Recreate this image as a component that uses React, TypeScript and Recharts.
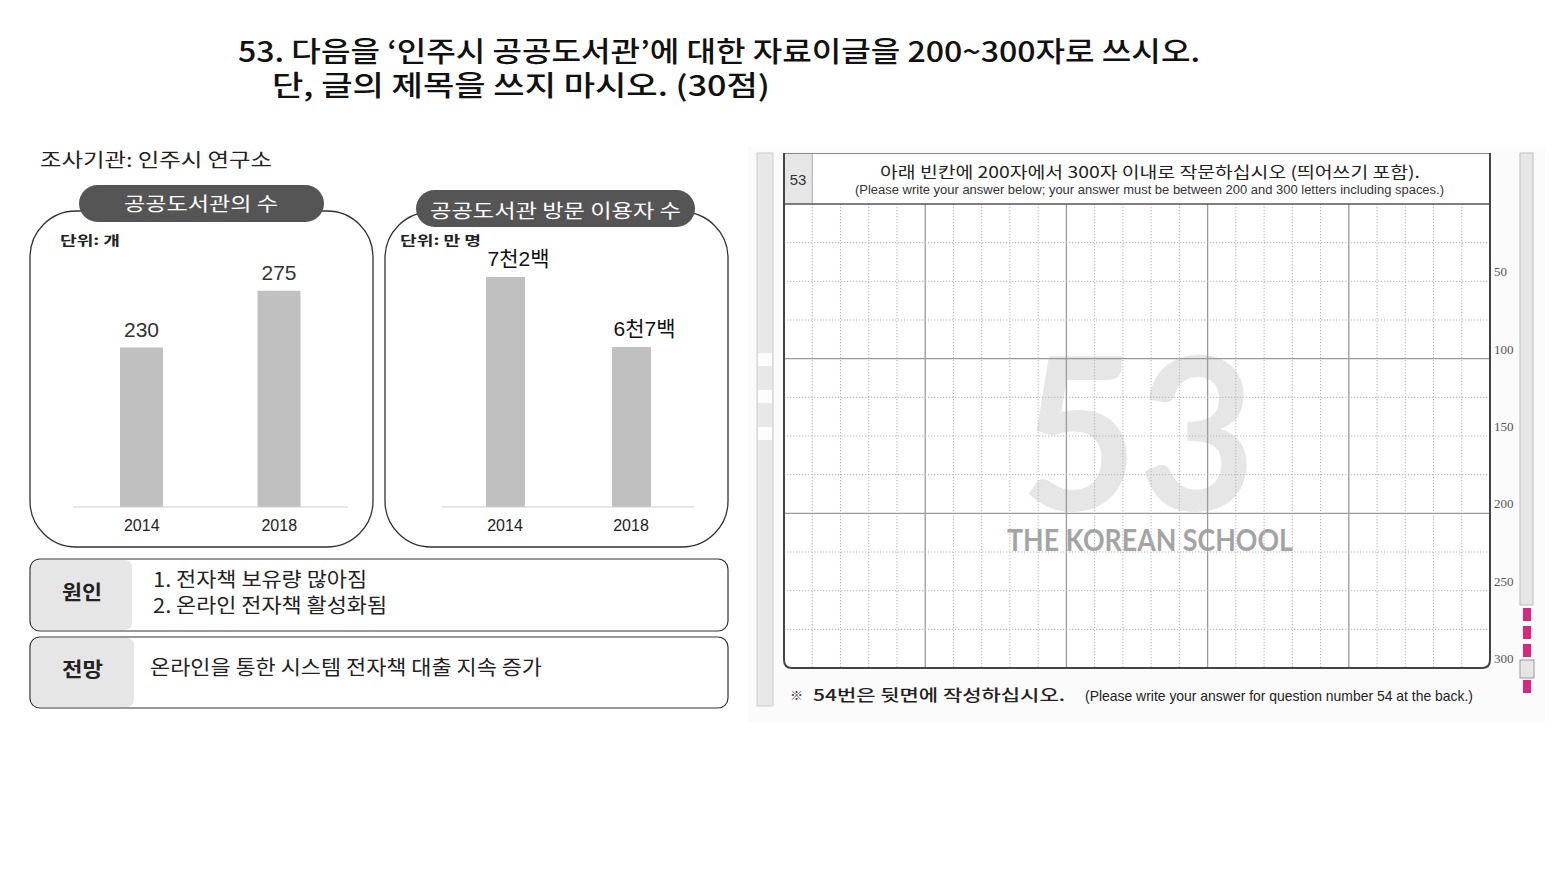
import React from 'react';
import { BarChart, Bar, XAxis, YAxis, LabelList } from 'recharts';

// ---------- data ----------
const years = ['2014', '2018'];
const libraryCounts = [230, 275];
const libraryCountLabels = ['230', '275'];
const visitorCounts = [7200, 6700]; // 만 명
const visitorLabels = ['7천2백', '6천7백'];
const sheetRowMarks = ['50', '100', '150', '200', '250', '300'];

const libraryData = years.map((y, i) => ({ year: y, value: libraryCounts[i], label: libraryCountLabels[i] }));
const visitorData = years.map((y, i) => ({ year: y, value: visitorCounts[i], label: visitorLabels[i] }));

const KR = '"Noto Sans CJK KR", "Noto Sans", sans-serif';
const LAT = '"Liberation Sans", Arial, "Noto Sans CJK KR", sans-serif';

// ---------- answer sheet geometry ----------
const SH_L = 784;
const SH_R = 1490;
const SH_TOP = 153;
const SH_HEAD = 204;
const SH_BOT = 668;
const COLS = 25;
const ROWS = 12;
const colW = (SH_R - SH_L) / COLS;
const rowH = (SH_BOT - SH_HEAD) / ROWS;

const makeLabel = (dx: number, fill: string, size: number) => (props: any) => {
  const { x, y, width, value } = props;
  return (
    <text
      x={Number(x) + Number(width) / 2 + dx}
      y={Number(y) - 11}
      textAnchor="middle"
      fill={fill}
      fontSize={size}
      fontFamily={LAT}
    >
      {value}
    </text>
  );
};

function AnswerSheet() {
  const cols: React.ReactNode[] = [];
  for (let c = 1; c < COLS; c++) {
    const x = SH_L + c * colW;
    const solid = c % 5 === 0;
    cols.push(
      <line
        key={'c' + c}
        x1={x}
        x2={x}
        y1={SH_HEAD}
        y2={SH_BOT}
        stroke={solid ? '#9a9a9a' : '#b5b5b5'}
        strokeWidth={solid ? 1.3 : 1}
        strokeDasharray={solid ? undefined : '1.3 1.7'}
      />
    );
  }
  const rows: React.ReactNode[] = [];
  for (let r = 1; r < ROWS; r++) {
    const y = SH_HEAD + r * rowH;
    const solid = r % 4 === 0;
    rows.push(
      <line
        key={'r' + r}
        x1={SH_L}
        x2={SH_R}
        y1={y}
        y2={y}
        stroke={solid ? '#9a9a9a' : '#b5b5b5'}
        strokeWidth={solid ? 1.3 : 1}
        strokeDasharray={solid ? undefined : '1.3 1.7'}
      />
    );
  }
  const marks = sheetRowMarks.map((m, i) => (
    <text
      key={m}
      x={1494}
      y={SH_HEAD + (i + 1) * 2 * rowH - 8}
      dominantBaseline="middle"
      fontSize={13}
      fill="#555"
      fontFamily='"Liberation Serif", "DejaVu Serif", serif'
    >
      {m}
    </text>
  ));
  const pinkYs = [608, 626, 644, 680];
  return (
    <g>
      <rect x={748} y={146} width={797} height={576} fill="#fbfbfb" />
      {/* left strip */}
      <rect x={757} y={153} width={16} height={553} fill="#e8e8e8" stroke="#cdcdcd" strokeWidth={1} />
      {[353, 390, 427].map((y) => (
        <rect key={y} x={758} y={y} width={14} height={13} fill="#fdfdfd" />
      ))}
      {/* right strip */}
      <rect x={1520} y={153} width={13} height={452} fill="#e6e6e6" stroke="#bdbdbd" strokeWidth={1} />
      {pinkYs.map((y) => (
        <rect key={y} x={1523} y={y} width={8} height={13} fill="#d9267f" />
      ))}
      <rect x={1520} y={660} width={14} height={18} fill="#e6e6e6" stroke="#9a9a9a" strokeWidth={1} />

      {/* header */}
      <rect x={SH_L} y={SH_TOP} width={SH_R - SH_L} height={SH_HEAD - SH_TOP} fill="#ffffff" />
      <rect x={SH_L + 1} y={SH_TOP + 1} width={colW - 1} height={SH_HEAD - SH_TOP - 1} fill="#e6e6e6" />
      <line x1={SH_L + colW} x2={SH_L + colW} y1={SH_TOP} y2={SH_HEAD} stroke="#aaa" strokeWidth={1} />
      <text x={SH_L + colW / 2} y={181} textAnchor="middle" dominantBaseline="middle" fontSize={15} fill="#333" fontFamily={LAT}>
        53
      </text>
      <text x={880} y={178} fontSize={16} fill="#222" fontFamily={KR} textLength={540} lengthAdjust="spacingAndGlyphs">
        아래 빈칸에 200자에서 300자 이내로 작문하십시오 (띄어쓰기 포함).
      </text>
      <text x={855} y={194} fontSize={12} fill="#333" fontFamily={LAT} textLength={589} lengthAdjust="spacingAndGlyphs">
        (Please write your answer below; your answer must be between 200 and 300 letters including spaces.)
      </text>

      {/* grid body */}
      <rect x={SH_L} y={SH_HEAD} width={SH_R - SH_L} height={SH_BOT - SH_HEAD} fill="#ffffff" />
      {/* watermark */}
      <text x={1020} y={510} fontSize={212} fontWeight={700} fill="#e6e6e6" fontFamily='Lato, "Noto Sans", sans-serif' textLength={236} lengthAdjust="spacingAndGlyphs">
        53
      </text>
      <text x={1007} y={551} fontSize={30} fontWeight={700} fill="#a4a4a4" fontFamily='Lato, "Noto Sans", sans-serif' textLength={286} lengthAdjust="spacingAndGlyphs">
        THE KOREAN SCHOOL
      </text>
      {cols}
      {rows}
      {/* frame */}
      <line x1={SH_L} x2={SH_R} y1={SH_TOP + 0.5} y2={SH_TOP + 0.5} stroke="#888" strokeWidth={1} />
      <line x1={SH_L} x2={SH_R} y1={SH_HEAD} y2={SH_HEAD} stroke="#555" strokeWidth={1.6} />
      <path
        d={`M ${SH_L} ${SH_TOP} L ${SH_L} ${SH_BOT - 8} Q ${SH_L} ${SH_BOT} ${SH_L + 8} ${SH_BOT} L ${SH_R - 8} ${SH_BOT} Q ${SH_R} ${SH_BOT} ${SH_R} ${SH_BOT - 8} L ${SH_R} ${SH_TOP}`}
        fill="none"
        stroke="#444"
        strokeWidth={2}
      />
      {marks}

      {/* footer */}
      <text x={790} y={700} fontSize={13} fill="#444" fontFamily={KR}>
        ※
      </text>
      <text x={813} y={701} fontSize={16} fontWeight={500} fill="#222" fontFamily={KR} textLength={252} lengthAdjust="spacingAndGlyphs">
        54번은 뒷면에 작성하십시오.
      </text>
      <text x={1085} y={701} fontSize={15} fill="#222" fontFamily={LAT} textLength={388} lengthAdjust="spacingAndGlyphs">
        (Please write your answer for question number 54 at the back.)
      </text>
    </g>
  );
}

function LeftStatic() {
  return (
    <g>
      {/* title */}
      <text x={238} y={62} fontSize={28} fontWeight={500} fill="#111" fontFamily={KR} textLength={962} lengthAdjust="spacingAndGlyphs">
        53. 다음을 ‘인주시 공공도서관’에 대한 자료이글을 200~300자로 쓰시오.
      </text>
      <text x={272} y={96} fontSize={28} fontWeight={500} fill="#111" fontFamily={KR} textLength={498} lengthAdjust="spacingAndGlyphs">
        단, 글의 제목을 쓰지 마시오. (30점)
      </text>

      <text x={40} y={167} fontSize={19} fill="#222" fontFamily={KR} textLength={232} lengthAdjust="spacingAndGlyphs">
        조사기관: 인주시 연구소
      </text>

      {/* chart boxes */}
      <rect x={30} y={211} width={343} height={336} rx={46} ry={46} fill="#fff" stroke="#333" strokeWidth={1.3} />
      <rect x={385} y={212} width={343} height={335} rx={46} ry={46} fill="#fff" stroke="#333" strokeWidth={1.3} />

      <rect x={79} y={185} width={245} height={37} rx={18.5} fill="#555" />
      <text x={124} y={211} fontSize={19} fill="#fff" fontFamily={KR} textLength={154} lengthAdjust="spacingAndGlyphs">
        공공도서관의 수
      </text>
      <rect x={416} y={190} width={279} height={37} rx={18.5} fill="#555" />
      <text x={430} y={218} fontSize={19} fill="#fff" fontFamily={KR} textLength={251} lengthAdjust="spacingAndGlyphs">
        공공도서관 방문 이용자 수
      </text>

      <text x={60} y={245} fontSize={13} fontWeight={700} fill="#222" fontFamily={KR} textLength={60} lengthAdjust="spacingAndGlyphs">
        단위: 개
      </text>
      <text x={400} y={245} fontSize={13} fontWeight={700} fill="#222" fontFamily={KR} textLength={81} lengthAdjust="spacingAndGlyphs">
        단위: 만 명
      </text>

      {/* cause box */}
      <rect x={30} y={559} width={698} height={72} rx={10} fill="#fff" stroke="#333" strokeWidth={1.2} />
      <path d="M 40 560 L 124 560 Q 132 560 132 568 L 132 622 Q 132 630 124 630 L 40 630 Q 31 630 31 621 L 31 569 Q 31 560 40 560 Z" fill="#e6e6e6" />
      <text x={62} y={600} fontSize={20} fontWeight={700} fill="#222" fontFamily={KR} textLength={40} lengthAdjust="spacingAndGlyphs">
        원인
      </text>
      <text x={153} y={587} fontSize={20} fill="#222" fontFamily={KR} textLength={214} lengthAdjust="spacingAndGlyphs">
        1. 전자책 보유량 많아짐
      </text>
      <text x={153} y={613} fontSize={20} fill="#222" fontFamily={KR} textLength={234} lengthAdjust="spacingAndGlyphs">
        2. 온라인 전자책 활성화됨
      </text>

      {/* outlook box */}
      <rect x={30} y={637} width={698} height={71} rx={10} fill="#fff" stroke="#333" strokeWidth={1.2} />
      <path d="M 40 638 L 126 638 Q 134 638 134 646 L 134 699 Q 134 707 126 707 L 40 707 Q 31 707 31 698 L 31 647 Q 31 638 40 638 Z" fill="#e6e6e6" />
      <text x={62} y={677} fontSize={20} fontWeight={700} fill="#222" fontFamily={KR} textLength={41} lengthAdjust="spacingAndGlyphs">
        전망
      </text>
      <text x={150} y={675} fontSize={20} fill="#222" fontFamily={KR} textLength={392} lengthAdjust="spacingAndGlyphs">
        온라인을 통한 시스템 전자책 대출 지속 증가
      </text>
    </g>
  );
}

export default function App() {
  return (
    <div style={{ position: 'absolute', left: 0, top: 0, width: 1557, height: 876, background: '#fff', overflow: 'hidden' }}>
      <svg width={1557} height={876} style={{ position: 'absolute', left: 0, top: 0 }}>
        <LeftStatic />
        <AnswerSheet />
      </svg>

      <div style={{ position: 'absolute', left: 73, top: 240 }}>
        <BarChart width={275} height={300} data={libraryData} margin={{ top: 19, right: 0, bottom: 0, left: 0 }}>
          <XAxis
            dataKey="year"
            height={33}
            axisLine={{ stroke: '#cfcfcf' }}
            tickLine={false}
            tickMargin={7}
            tick={{ fill: '#222', fontSize: 16, fontFamily: LAT }}
          />
          <YAxis hide type="number" domain={[104, 300]} allowDataOverflow />
          <Bar dataKey="value" fill="#c0c0c0" barSize={43} isAnimationActive={false}>
            <LabelList dataKey="label" content={makeLabel(0, '#333', 21)} />
          </Bar>
        </BarChart>
      </div>

      <div style={{ position: 'absolute', left: 442, top: 240 }}>
        <BarChart width={252} height={300} data={visitorData} margin={{ top: 19, right: 0, bottom: 0, left: 0 }}>
          <XAxis
            dataKey="year"
            height={33}
            axisLine={{ stroke: '#cfcfcf' }}
            tickLine={false}
            tickMargin={7}
            tick={{ fill: '#222', fontSize: 16, fontFamily: LAT }}
          />
          <YAxis hide type="number" domain={[5557, 7328]} allowDataOverflow />
          <Bar dataKey="value" fill="#c0c0c0" barSize={39} isAnimationActive={false}>
            <LabelList dataKey="label" content={makeLabel(13, '#111', 21)} />
          </Bar>
        </BarChart>
      </div>
    </div>
  );
}
